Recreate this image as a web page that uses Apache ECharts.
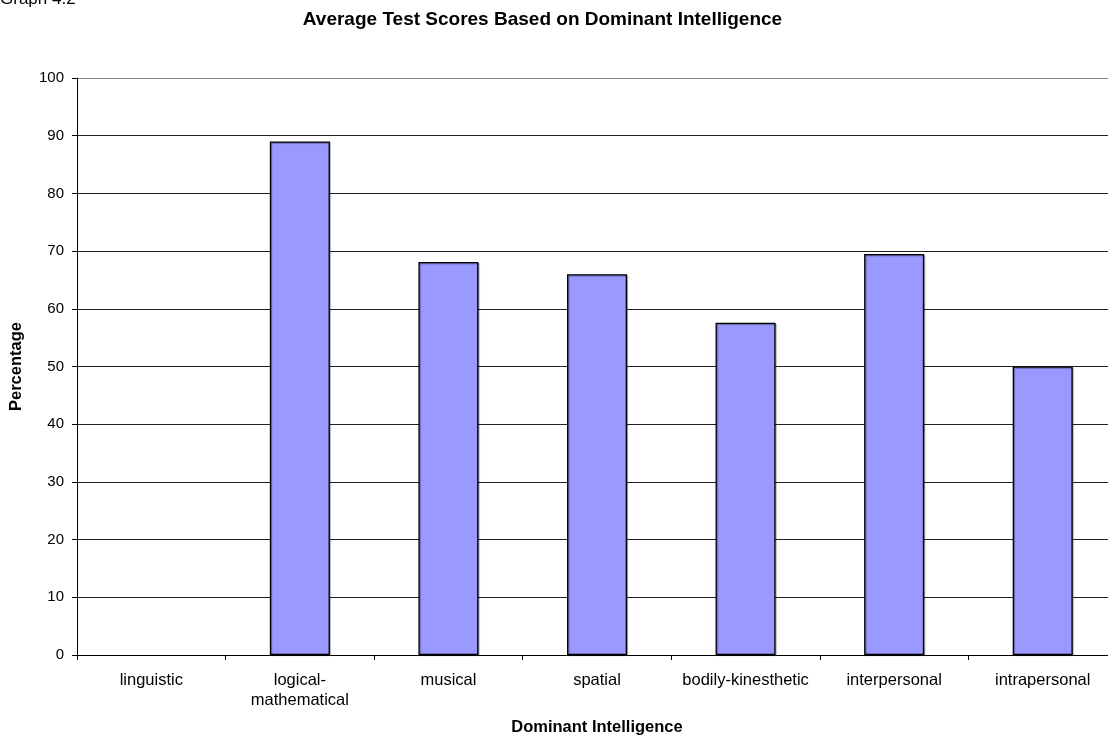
<!DOCTYPE html>
<html>
<head>
<meta charset="utf-8">
<script src="https://cdn.jsdelivr.net/npm/echarts@6/dist/echarts.min.js"></script>
<style>html,body{margin:0;padding:0;background:#fff;}#c{width:1108px;height:740px;}</style>
</head>
<body>
<div id="c"></div>
<script>
const categories = ['linguistic', 'logical-\nmathematical', 'musical', 'spatial', 'bodily-kinesthetic', 'interpersonal', 'intrapersonal'];
const scores = [null, 89, 68.1, 66, 57.6, 69.5, 50];
const yTicks = [0, 10, 20, 30, 40, 50, 60, 70, 80, 90, 100];

const chart = echarts.init(document.getElementById('c'), null, {renderer: 'canvas'});
const FONT = '"Liberation Sans", Arial, sans-serif';
const splitColors = yTicks.map(v => v === 100 ? '#888' : '#222');
chart.setOption({
  animation: false,
  backgroundColor: '#fff',
  graphic: [{
    type: 'text', x: 542.5, y: 19.4,
    style: {text: 'Average Test Scores Based on Dominant Intelligence', font: 'bold 19px ' + FONT,
      fill: '#000', align: 'center', verticalAlign: 'middle'}
  }, {
    type: 'text', x: 0, y: -0.8,
    style: {text: 'Graph 4.2', font: '17px ' + FONT, fill: '#000', align: 'left', verticalAlign: 'middle'}
  }],
  grid: {left: 77, top: 78, width: 1040, height: 577, containLabel: false, outerBoundsMode: 'none'},
  xAxis: {
    type: 'category',
    data: categories,
    name: 'Dominant Intelligence',
    nameLocation: 'middle',
    nameGap: 64,
    nameTextStyle: {fontFamily: FONT, fontSize: 16.5, fontWeight: 'bold', color: '#000'},
    axisLine: {show: true, lineStyle: {color: '#000', width: 1}},
    axisTick: {show: true, alignWithLabel: false, length: 5, lineStyle: {color: '#000'}},
    axisLabel: {fontFamily: FONT, fontSize: 16.5, color: '#000', margin: 15, lineHeight: 20, interval: 0},
    splitLine: {show: false}
  },
  yAxis: {
    type: 'value',
    min: 0, max: 100, interval: 10,
    name: 'Percentage',
    nameLocation: 'middle',
    nameGap: 52,
    nameTextStyle: {fontFamily: FONT, fontSize: 16.5, fontWeight: 'bold', color: '#000'},
    axisLine: {show: true, lineStyle: {color: '#000', width: 1}},
    axisTick: {show: true, length: 5, lineStyle: {color: '#000'}},
    axisLabel: {fontFamily: FONT, fontSize: 15, color: '#000', margin: 13,
      formatter: v => yTicks.includes(v) ? String(v) : ''},
    splitLine: {show: true, lineStyle: {color: splitColors, width: 1}}
  },
  series: [{
    type: 'bar',
    data: scores,
    barWidth: '40.4%',
    itemStyle: {color: '#9999FF', borderColor: '#000', borderWidth: 1.3,
      shadowColor: 'rgba(0,0,0,0.35)', shadowOffsetX: 1, shadowOffsetY: 1, shadowBlur: 1}
  }]
});
</script>
</body>
</html>
